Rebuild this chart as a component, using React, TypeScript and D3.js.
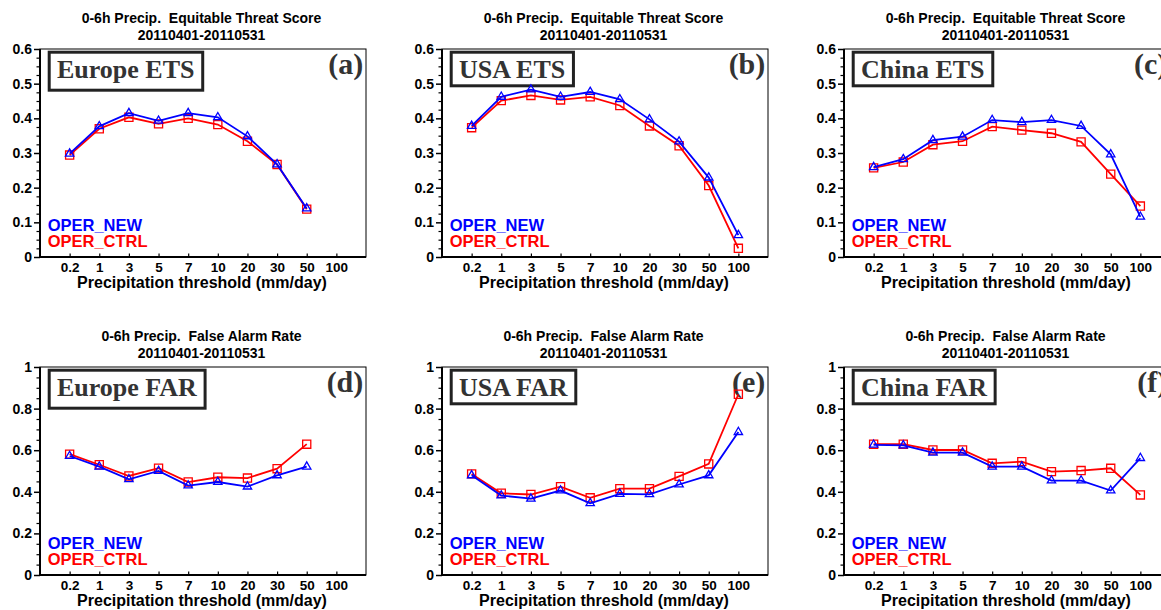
// six-panel precipitation verification chart (ETS / FAR) drawn with d3
import React, { useEffect, useRef } from 'react';
import * as d3 from 'd3';

// x categories
const thresholds = ['0.2', '1', '3', '5', '7', '10', '20', '30', '50', '100'];
const period = '20110401-20110531';
const etsTitle = '0-6h Precip.  Equitable Threat Score';
const farTitle = '0-6h Precip.  False Alarm Rate';
const xTitle = 'Precipitation threshold (mm/day)';
const seriesNames = ['OPER_NEW', 'OPER_CTRL'];
const etsTicks = [0, 0.1, 0.2, 0.3, 0.4, 0.5, 0.6];
const farTicks = [0, 0.2, 0.4, 0.6, 0.8, 1];

// values
const europeEtsNew = [0.298, 0.377, 0.415, 0.393, 0.415, 0.403, 0.348, 0.267, 0.14];
const europeEtsCtrl = [0.294, 0.37, 0.403, 0.384, 0.4, 0.382, 0.334, 0.267, 0.138];
const usaEtsNew = [0.378, 0.462, 0.483, 0.462, 0.476, 0.455, 0.397, 0.333, 0.229, 0.063];
const usaEtsCtrl = [0.373, 0.451, 0.466, 0.453, 0.462, 0.437, 0.378, 0.321, 0.206, 0.025];
const chinaEtsNew = [0.259, 0.282, 0.337, 0.347, 0.395, 0.389, 0.395, 0.378, 0.296, 0.116];
const chinaEtsCtrl = [0.257, 0.274, 0.324, 0.334, 0.376, 0.366, 0.357, 0.332, 0.239, 0.147];
const europeFarNew = [0.572, 0.521, 0.46, 0.5, 0.43, 0.447, 0.425, 0.479, 0.521];
const europeFarCtrl = [0.581, 0.53, 0.476, 0.514, 0.447, 0.47, 0.466, 0.511, 0.629];
const usaFarNew = [0.479, 0.382, 0.367, 0.406, 0.345, 0.39, 0.388, 0.435, 0.479, 0.687];
const usaFarCtrl = [0.486, 0.393, 0.387, 0.425, 0.371, 0.415, 0.415, 0.474, 0.534, 0.869];
const chinaFarNew = [0.626, 0.623, 0.588, 0.588, 0.521, 0.521, 0.454, 0.454, 0.406, 0.562];
const chinaFarCtrl = [0.629, 0.629, 0.601, 0.601, 0.537, 0.545, 0.497, 0.502, 0.513, 0.385];

const panels = [
  { title: etsTitle, label: 'Europe ETS', letter: '(a)', ticks: etsTicks, newV: europeEtsNew, ctrlV: europeEtsCtrl, col: 0, row: 0 },
  { title: etsTitle, label: 'USA ETS', letter: '(b)', ticks: etsTicks, newV: usaEtsNew, ctrlV: usaEtsCtrl, col: 1, row: 0 },
  { title: etsTitle, label: 'China ETS', letter: '(c)', ticks: etsTicks, newV: chinaEtsNew, ctrlV: chinaEtsCtrl, col: 2, row: 0 },
  { title: farTitle, label: 'Europe FAR', letter: '(d)', ticks: farTicks, newV: europeFarNew, ctrlV: europeFarCtrl, col: 0, row: 1 },
  { title: farTitle, label: 'USA FAR', letter: '(e)', ticks: farTicks, newV: usaFarNew, ctrlV: usaFarCtrl, col: 1, row: 1 },
  { title: farTitle, label: 'China FAR', letter: '(f)', ticks: farTicks, newV: chinaFarNew, ctrlV: chinaFarCtrl, col: 2, row: 1 },
];

const W = 1161, H = 610;
const PLOT_W = 326, PLOT_H = 208;
const COL_X = [40, 442, 844];
const ROW_Y = [49, 367];
const SANS = "'Liberation Sans', Arial, Helvetica, sans-serif";
const SERIF = "'Liberation Serif', 'Times New Roman', serif";
const BLUE = '#0000ff', RED = '#ff0000';

const fmt = (d: number) => `${+d.toFixed(3)}`;

const App = () => {
  const ref = useRef<SVGSVGElement>(null);

  useEffect(() => {
    const svg = d3.select(ref.current);
    svg.selectAll('*').remove();
    svg.append('rect').attr('width', W).attr('height', H).attr('fill', '#fff');

    panels.forEach((p) => {
      const g = svg.append('g').attr('transform', `translate(${COL_X[p.col]},${ROW_Y[p.row]})`);
      const yMax = p.ticks[p.ticks.length - 1];
      const step = p.ticks[1] - p.ticks[0];

      const x = d3.scaleLinear().domain([0, thresholds.length + 1]).range([0, PLOT_W]);
      const y = d3.scaleLinear().domain([0, yMax]).range([PLOT_H, 0]);

      //title (two lines)
      const title = g.append('text')
        .attr('text-anchor', 'middle')
        .style('white-space', 'pre')
        .attr('font-family', SANS).attr('font-weight', 'bold').attr('font-size', 14);
      title.append('tspan').attr('x', PLOT_W / 2 - 1.5).attr('y', -25.7).text(p.title);
      title.append('tspan').attr('x', PLOT_W / 2 - 1.5).attr('y', -9.5).text(period);

      //frame
      g.append('rect').attr('width', PLOT_W).attr('height', PLOT_H)
        .attr('fill', 'none').attr('stroke', '#000').attr('stroke-width', 1);

      //minor y ticks
      const minor = d3.range(0, yMax + 1e-9, step / 4).filter((v) => !p.ticks.some((t) => Math.abs(t - v) < 1e-9));
      const yMinor = g.append('g').call(d3.axisLeft(y).tickValues(minor).tickSize(3.5).tickFormat(() => ''));
      yMinor.select('.domain').remove();
      yMinor.selectAll('line').attr('stroke-width', 1.2);

      //major y ticks
      const yAxis = g.append('g')
        .call(d3.axisLeft(y).tickValues(p.ticks).tickSize(6).tickPadding(2).tickFormat((d) => fmt(+d)));
      yAxis.select('.domain').remove();
      yAxis.selectAll('line').attr('stroke-width', 1.5);
      yAxis.selectAll('text')
        .attr('font-family', SANS).attr('font-weight', 'bold').attr('font-size', 14).attr('fill', '#000');

      //x axis, ticks pointing inside
      const xAxis = g.append('g').attr('transform', `translate(0,${PLOT_H})`)
        .call(d3.axisBottom(x).tickValues(d3.range(1, thresholds.length + 1)).tickSize(-3.5)
          .tickFormat((d) => thresholds[+d - 1]));
      xAxis.select('.domain').remove();
      xAxis.selectAll('line').attr('stroke-width', 1.2);
      xAxis.selectAll('text').attr('y', 15).attr('dy', null)
        .attr('font-family', SANS).attr('font-weight', 'bold').attr('font-size', 13.5).attr('fill', '#000');

      //thick left and bottom axis lines
      g.append('line').attr('x1', 0).attr('x2', 0).attr('y1', 0).attr('y2', PLOT_H)
        .attr('stroke', '#000').attr('stroke-width', 2);
      g.append('line').attr('x1', -1).attr('x2', PLOT_W).attr('y1', PLOT_H).attr('y2', PLOT_H)
        .attr('stroke', '#000').attr('stroke-width', 2);

      g.append('text').attr('x', PLOT_W / 2 - 1).attr('y', PLOT_H + 30.5).attr('text-anchor', 'middle')
        .attr('font-family', SANS).attr('font-weight', 'bold').attr('font-size', 16).text(xTitle);

      //region label box
      const lbl = g.append('text').attr('x', 17).attr('y', 29.3)
        .attr('font-family', SERIF).attr('font-weight', 'bold').attr('font-size', 26).attr('fill', '#333')
        .text(p.label);
      const len = (lbl.node() as SVGTextElement).getComputedTextLength();
      const hasDesc = /[gjpqy]/.test(p.label);
      g.insert('rect', () => lbl.node())
        .attr('x', 9.2).attr('y', 3.2).attr('width', len + 16).attr('height', hasDesc ? 38 : 33.6)
        .attr('fill', 'none').attr('stroke', '#222').attr('stroke-width', 3);

      //panel letter
      g.append('text').attr('x', PLOT_W - 2.7).attr('y', 24.7).attr('text-anchor', 'end')
        .attr('font-family', SERIF).attr('font-weight', 'bold').attr('font-size', 30).attr('fill', '#333')
        .text(p.letter);

      //legend
      g.append('text').attr('x', 7.7).attr('y', PLOT_H - 26.3)
        .attr('font-family', SANS).attr('font-weight', 'bold').attr('font-size', 16.5).attr('fill', BLUE)
        .text(seriesNames[0]);
      g.append('text').attr('x', 7.7).attr('y', PLOT_H - 10.3)
        .attr('font-family', SANS).attr('font-weight', 'bold').attr('font-size', 16.5).attr('fill', RED)
        .text(seriesNames[1]);

      const line = d3.line<number>().x((_, i) => x(i + 1)).y((d) => y(d));
      const series = [
        { vals: p.ctrlV, color: RED, sym: d3.symbolSquare, size: 66 },
        { vals: p.newV, color: BLUE, sym: d3.symbolTriangle, size: 30 },
      ];
      series.forEach((s) => {
        g.append('path').datum(s.vals).attr('d', line)
          .attr('fill', 'none').attr('stroke', s.color).attr('stroke-width', 1.8);
        g.append('g').selectAll('path').data(s.vals).enter().append('path')
          .attr('transform', (d, i) => `translate(${x(i + 1)},${y(d)})`)
          .attr('d', d3.symbol().type(s.sym).size(s.size)())
          .attr('fill', 'none').attr('stroke', s.color).attr('stroke-width', 1.3);
      });
    });
  }, []);

  return (
    <div>
      <svg ref={ref} width={W} height={H} style={{ position: 'absolute', left: 0, top: 0, display: 'block' }}></svg>
    </div>
  );
};

export default App;
